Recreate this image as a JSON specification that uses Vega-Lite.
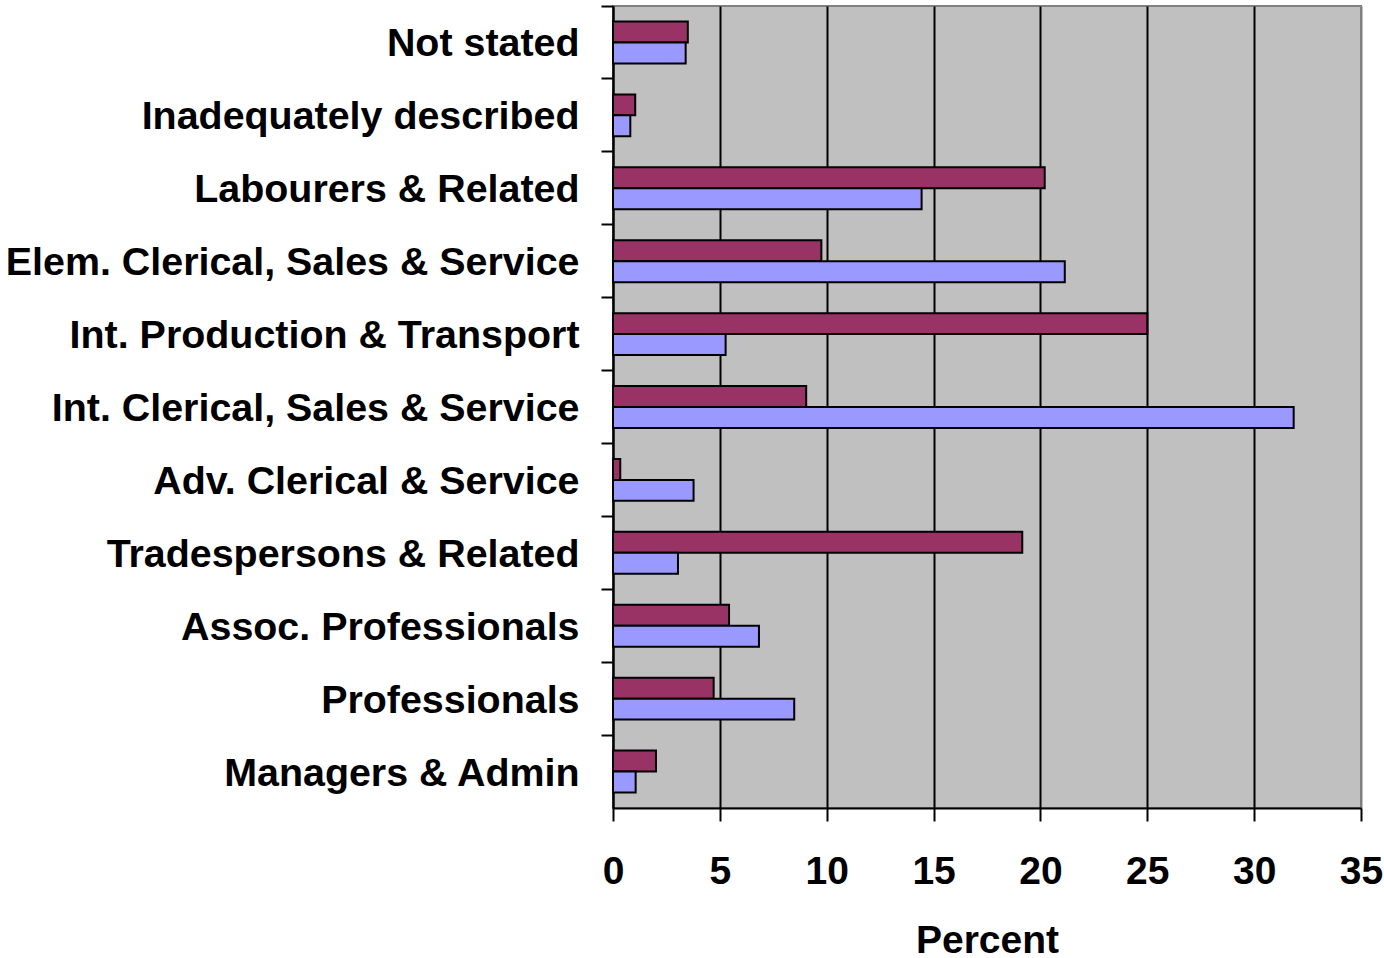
{
  "$schema": "https://vega.github.io/schema/vega-lite/v6.json",
  "width": 748,
  "height": 802,
  "padding": {"left": 5, "top": 5, "right": 0, "bottom": 0},
  "background": "white",
  "data": {
    "values": [
      {"occupation": "Not stated", "series": "Male", "percent": 3.5},
      {"occupation": "Not stated", "series": "Female", "percent": 3.4},
      {"occupation": "Inadequately described", "series": "Male", "percent": 1.04},
      {"occupation": "Inadequately described", "series": "Female", "percent": 0.81},
      {"occupation": "Labourers & Related", "series": "Male", "percent": 20.2},
      {"occupation": "Labourers & Related", "series": "Female", "percent": 14.44},
      {"occupation": "Elem. Clerical, Sales & Service", "series": "Male", "percent": 9.75},
      {"occupation": "Elem. Clerical, Sales & Service", "series": "Female", "percent": 21.14},
      {"occupation": "Int. Production & Transport", "series": "Male", "percent": 25.0},
      {"occupation": "Int. Production & Transport", "series": "Female", "percent": 5.27},
      {"occupation": "Int. Clerical, Sales & Service", "series": "Male", "percent": 9.04},
      {"occupation": "Int. Clerical, Sales & Service", "series": "Female", "percent": 31.85},
      {"occupation": "Adv. Clerical & Service", "series": "Male", "percent": 0.34},
      {"occupation": "Adv. Clerical & Service", "series": "Female", "percent": 3.77},
      {"occupation": "Tradespersons & Related", "series": "Male", "percent": 19.15},
      {"occupation": "Tradespersons & Related", "series": "Female", "percent": 3.04},
      {"occupation": "Assoc. Professionals", "series": "Male", "percent": 5.43},
      {"occupation": "Assoc. Professionals", "series": "Female", "percent": 6.83},
      {"occupation": "Professionals", "series": "Male", "percent": 4.71},
      {"occupation": "Professionals", "series": "Female", "percent": 8.48},
      {"occupation": "Managers & Admin", "series": "Male", "percent": 2.01},
      {"occupation": "Managers & Admin", "series": "Female", "percent": 1.06}
    ]
  },
  "mark": {"type": "bar", "stroke": "black", "strokeWidth": 2},
  "encoding": {
    "y": {
      "field": "occupation",
      "type": "nominal",
      "sort": null,
      "scale": {"paddingInner": 0, "paddingOuter": 0},
      "axis": {
        "title": null,
        "bandPosition": 0,
        "domainColor": "black",
        "domainWidth": 2,
        "tickColor": "black",
        "tickWidth": 2,
        "tickSize": 12,
        "labelPadding": 22,
        "labelOffset": 2,
        "labelFont": "Liberation Sans",
        "labelFontWeight": "bold",
        "labelFontSize": 39.4,
        "labelColor": "black",
        "labelLimit": 1000,
        "grid": false
      }
    },
    "yOffset": {
      "field": "series",
      "type": "nominal",
      "sort": ["Male", "Female"],
      "scale": {"paddingOuter": 0.74, "paddingInner": 0}
    },
    "x": {
      "field": "percent",
      "type": "quantitative",
      "scale": {"domain": [0, 35], "nice": false},
      "axis": {
        "title": "Percent",
        "values": [0, 5, 10, 15, 20, 25, 30, 35],
        "domainColor": "black",
        "domainWidth": 2,
        "tickColor": "black",
        "tickWidth": 2,
        "tickSize": 13,
        "labelPadding": 31,
        "labelFont": "Liberation Sans",
        "labelFontWeight": "bold",
        "labelFontSize": 39,
        "labelColor": "black",
        "labelFlush": false,
        "labelOverlap": false,
        "grid": true,
        "gridColor": {"condition": {"test": "datum.value == 35", "value": "#808080"}, "value": "black"},
        "gridWidth": 2,
        "titleFont": "Liberation Sans",
        "titleFontWeight": "bold",
        "titleFontSize": 39,
        "titleColor": "black",
        "titlePadding": 30
      }
    },
    "color": {
      "field": "series",
      "type": "nominal",
      "scale": {"domain": ["Male", "Female"], "range": ["#993366", "#9999FF"]},
      "legend": null
    }
  },
  "config": {
    "view": {"fill": "#C0C0C0", "stroke": "#808080", "strokeWidth": 2}
  }
}
